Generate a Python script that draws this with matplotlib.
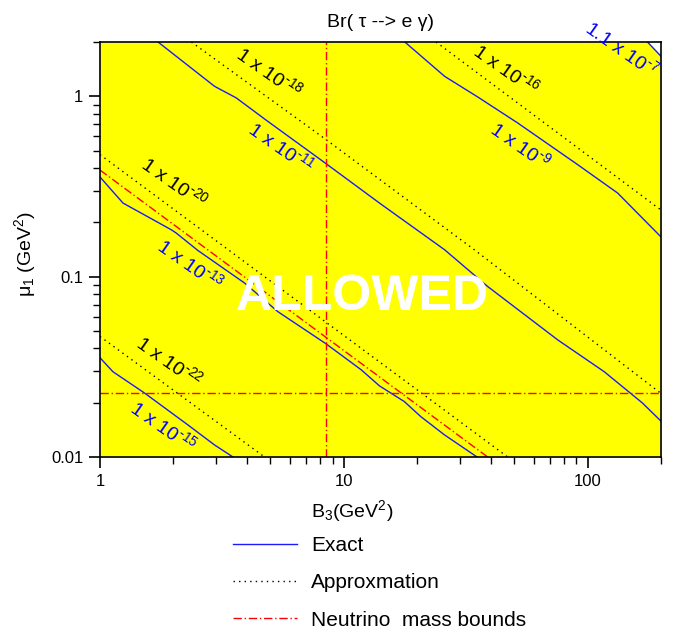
import numpy as np
import matplotlib
matplotlib.use('Agg')
import matplotlib.pyplot as plt
from matplotlib.lines import Line2D

plt.rcParams['font.family'] = ['Liberation Sans', 'DejaVu Sans']
plt.rcParams['mathtext.default'] = 'regular'

# exact results (blue), B3 in GeV^2 and mu1 in GeV^2
exact_1e7_x = [176, 200]
exact_1e7_y = [2.0, 1.667]
exact_1e9_x = [17.8, 25.9, 35.4, 51.7, 91.0, 132.7, 200]
exact_1e9_y = [2.0, 1.291, 0.992, 0.711, 0.418, 0.291, 0.166]
exact_1e11_x = [1.73, 2.95, 3.62, 4.88, 8.46, 14.0, 25.9, 38.9, 75.4, 117, 168, 200]
exact_1e11_y = [2.0, 1.136, 0.98, 0.726, 0.423, 0.256, 0.141, 0.0882, 0.0446, 0.0297, 0.0199, 0.0158]
exact_1e13_x = [1.0, 1.242, 1.96, 2.054, 2.52, 3.92, 5.36, 8.46, 11.8, 14.0, 17.7, 20.7, 25.9, 35.2]
exact_1e13_y = [0.357, 0.256, 0.182, 0.1745, 0.1397, 0.0921, 0.064, 0.0424, 0.0304, 0.0248, 0.0203, 0.01674, 0.01325, 0.01]
exact_1e15_x = [1.0, 1.13, 1.525, 2.295, 2.95, 3.51]
exact_1e15_y = [0.0355, 0.0297, 0.0226, 0.01505, 0.01166, 0.01]

# approximation (dotted)
approx_1e16_x = [23.9, 200]
approx_1e16_y = [2.0, 0.234]
approx_1e18_x = [2.37, 8.46, 34.3, 200]
approx_1e18_y = [2.0, 0.575, 0.141, 0.0225]
approx_1e20_x = [1.0, 47.0]
approx_1e20_y = [0.475, 0.01]
approx_1e22_x = [1.0, 4.73]
approx_1e22_y = [0.0466, 0.01]

# neutrino mass bounds (red dash-dot)
nu_diag_x = [1.0, 38.9]
nu_diag_y = [0.390, 0.01]
nu_B3 = 8.46
nu_mu1 = 0.0226

labels = [
    ('1 x 10$^{\\text{-}18}$', 'black', 4.93, 1.354),
    ('1 x 10$^{\\text{-}11}$', 'blue', 5.52, 0.519),
    ('1 x 10$^{\\text{-}20}$', 'black', 2.01, 0.332),
    ('1 x 10$^{\\text{-}13}$', 'blue', 2.34, 0.1163),
    ('1 x 10$^{\\text{-}22}$', 'black', 1.918, 0.0337),
    ('1 x 10$^{\\text{-}15}$', 'blue', 1.813, 0.01486),
    ('1 x 10$^{\\text{-}16}$', 'black', 46.6, 1.406),
    ('1 x 10$^{\\text{-}9}$', 'blue', 53.1, 0.539),
    ('1.1 x 10$^{\\text{-}7}$', 'blue', 137.8, 1.84),
]

blue = '#1a1aff'
fig = plt.figure(figsize=(6.73, 6.32), dpi=100)
ax = fig.add_axes([0.1486, 0.2769, 0.8336, 0.6566])
ax.set_xscale('log')
ax.set_yscale('log')
ax.set_xlim(1, 200)
ax.set_ylim(0.01, 2)
ax.set_facecolor('white')

# allowed region (yellow) bounded by the 1.1e-7 curve
fx = [1] + exact_1e7_x
fy = [2.0] + exact_1e7_y
ax.fill_between(fx, 0.01, fy, color='#ffff00', lw=0, zorder=0)

exact_style = dict(color=blue, lw=1.0)
for xs, ys in [(exact_1e7_x, exact_1e7_y), (exact_1e9_x, exact_1e9_y),
               (exact_1e11_x, exact_1e11_y), (exact_1e13_x, exact_1e13_y),
               (exact_1e15_x, exact_1e15_y)]:
    ax.plot(xs, ys, **exact_style)

dot_style = dict(color='black', lw=1.0, linestyle=(0, (1, 3)))
for xs, ys in [(approx_1e16_x, approx_1e16_y), (approx_1e18_x, approx_1e18_y),
               (approx_1e20_x, approx_1e20_y), (approx_1e22_x, approx_1e22_y)]:
    ax.plot(xs, ys, **dot_style)

red_style = dict(color='red', lw=1.0, linestyle=(0, (6, 2, 1, 2)))
ax.plot(nu_diag_x, nu_diag_y, **red_style)
ax.axvline(nu_B3, **red_style)
ax.axhline(nu_mu1, **red_style)

for txt, c, x, y in labels:
    ax.text(x, y, txt, color=c, fontsize=14, rotation=-35,
            ha='center', va='center', rotation_mode='anchor', clip_on=False)

ax.text(0.467, 0.385, 'ALLOWED', transform=ax.transAxes, color='white',
        fontsize=36, fontweight='bold', ha='center', va='center')

ax.set_xticks([1, 10, 100])
ax.set_xticklabels(['1', '10', '100'])
ax.set_yticks([0.01, 0.1, 1])
ax.set_yticklabels(['0.01', '0.1', '1'])
ax.tick_params(which='major', direction='out', length=8, width=1.2, labelsize=12, pad=4)
ax.tick_params(which='minor', direction='out', length=5, width=1.0)
ax.tick_params(axis='both', which='both', top=False, right=False)
for s in ax.spines.values():
    s.set_linewidth(1.2)

ax.set_title('Br( τ --> e γ)', fontsize=14, pad=11)
ax.set_xlabel('B$_3$(GeV$^2$)', fontsize=14, labelpad=12)
ax.xaxis.set_label_coords(0.45, -0.1)
ax.xaxis.label.set_va('top')
ax.set_ylabel('μ$_1$ (GeV$^2$)', fontsize=14)
ax.yaxis.set_label_coords(-0.11, 0.49)

handles = [Line2D([], [], **exact_style), Line2D([], [], **dot_style),
           Line2D([], [], **red_style)]
fig.legend(handles, ['Exact', 'Approxmation', 'Neutrino  mass bounds'],
           loc='upper left', bbox_to_anchor=(0.346, 0.152), frameon=False,
           fontsize=15, handlelength=3.1, handletextpad=0.67, labelspacing=0.88,
           borderpad=0, borderaxespad=0)

fig.savefig('out.png', dpi=100)
